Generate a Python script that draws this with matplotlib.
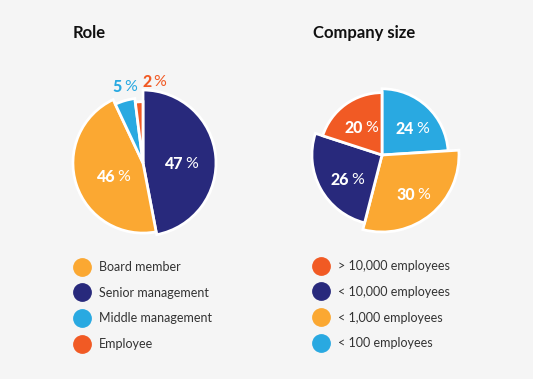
import numpy as np
import matplotlib
matplotlib.use("Agg")
import matplotlib.pyplot as plt
from matplotlib.lines import Line2D

# data
role_labels = ["Board member", "Senior management", "Middle management", "Employee"]
role_values = [46, 47, 5, 2]
size_labels = ["> 10,000 employees", "< 10,000 employees", "< 1,000 employees", "< 100 employees"]
size_values = [20, 26, 30, 24]

ORANGE = "#FBA832"
NAVY = "#28297C"
BLUE = "#29A9E1"
RED = "#F15A24"
BG = "#F5F5F5"

role_colors = [ORANGE, NAVY, BLUE, RED]
size_colors = [RED, NAVY, ORANGE, BLUE]

plt.rcParams["font.family"] = ["Lato", "DejaVu Sans"]

W, H = 533, 379
fig = plt.figure(figsize=(W / 100, H / 100), dpi=100, facecolor=BG)


def pie_axes(cx, cy, r):
    ax = fig.add_axes([(cx - r) / W, (H - cy - r) / H, 2 * r / W, 2 * r / H])
    ax.set_facecolor(BG)
    ax.axis("off")
    return ax


def pct_label(ax, x, y, val, color, size=11.5):
    t = ax.text(x, y, str(val), ha="right", va="center", color=color,
                fontsize=size, fontweight="black")
    ax.annotate("%", xy=(1, 0.5), xycoords=t, xytext=(1.5, 0), textcoords="offset points",
                ha="left", va="center", color=color, fontsize=size, fontweight="normal")


def draw_pie(ax, values, colors, order, radii, dists, nudges):
    vals = [values[i] for i in order]
    cols = [colors[i] for i in order]
    wedges, _ = ax.pie(vals, colors=cols, startangle=90, counterclock=False, radius=1,
                       wedgeprops=dict(edgecolor="white", linewidth=2))
    ang = 90.0
    for w, r, v, c, d, nx in zip(wedges, radii, vals, cols, dists, nudges):
        w.set_radius(r)
        span = 360 * v / sum(vals)
        mid = np.deg2rad(ang - span / 2)
        ang -= span
        inside = d < 1
        pct_label(ax, d * np.cos(mid) + 0.05 + nx, d * np.sin(mid) - 0.055, v,
                  "white" if inside else c)
    ax.set_xlim(-1, 1)
    ax.set_ylim(-1, 1)


# Role pie: clockwise from top -> senior, board, middle, employee
ax1 = pie_axes(143, 163, 73)
draw_pie(ax1, role_values, role_colors, [1, 0, 2, 3], [1.0, 0.96, 0.89, 0.84],
         [0.5, 0.46, 1.14, 1.17], [0, 0, -0.02, 0.14])

# Company size pie: clockwise from top -> <100, <1000, <10000, >10000
ax2 = pie_axes(382, 155, 77)
draw_pie(ax2, size_values, size_colors, [3, 2, 1, 0], [0.86, 1.0, 0.91, 0.81],
         [0.53, 0.6, 0.55, 0.5], [0, 0, 0, 0])

# titles
fig.text(73 / W, 1 - 33 / H, "Role", fontsize=12, fontweight="bold", va="center", color="#111111")
fig.text(313 / W, 1 - 33 / H, "Company size", fontsize=12, fontweight="bold", va="center", color="#111111")


def legend(x, y0, labels, colors):
    handles = [Line2D([], [], marker="o", linestyle="", markersize=12.5,
                      markerfacecolor=c, markeredgecolor=c) for c in colors]
    fig.legend(handles, labels, loc="upper left", bbox_to_anchor=(x / W, 1 - y0 / H),
               frameon=False, fontsize=9, labelcolor="#333333", handletextpad=0.8,
               labelspacing=1.1, borderpad=0, borderaxespad=0, handlelength=1.2)


legend(74, 261, role_labels, role_colors)
legend(313, 260, size_labels, size_colors)

fig.savefig("out.png", dpi=100, facecolor=BG)
